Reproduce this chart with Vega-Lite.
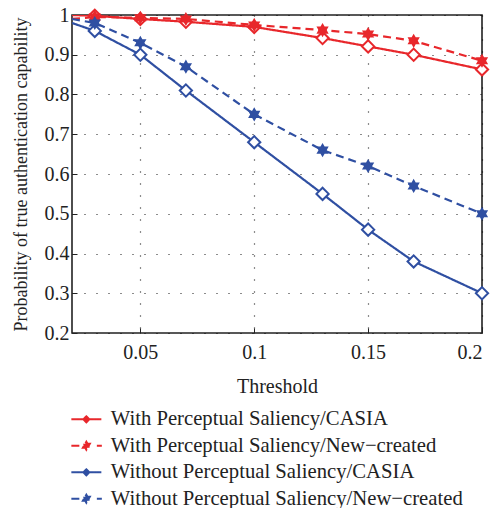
{
  "$schema": "https://vega.github.io/schema/vega-lite/v6.json",
  "width": 410,
  "height": 318,
  "autosize": "none",
  "padding": {"left": 72, "top": 15, "right": 17, "bottom": 175},
  "background": "white",
  "config": {
    "font": "Liberation Serif",
    "view": {"stroke": "#222222", "strokeWidth": 1.6},
    "axis": {
      "labelFont": "Liberation Serif",
      "titleFont": "Liberation Serif",
      "labelFontSize": 20,
      "titleFontSize": 20,
      "titleFontWeight": "normal",
      "labelColor": "#222222",
      "titleColor": "#222222",
      "domain": false,
      "tickColor": "#222222",
      "tickSize": -5,
      "tickWidth": 1,
      "grid": true,
      "gridColor": "#000000",
      "gridDash": [1, 11],
      "gridWidth": 1.2,
      "gridOpacity": 0.9
    },
    "legend": {
      "labelFont": "Liberation Serif",
      "labelFontSize": 20.7,
      "labelColor": "#222222",
      "labelLimit": 0
    }
  },
  "data": {
    "values": [
      {"t": 0.02, "p": 1.0, "s": "With Perceptual Saliency/CASIA"},
      {"t": 0.03, "p": 0.998, "s": "With Perceptual Saliency/CASIA"},
      {"t": 0.05, "p": 0.99, "s": "With Perceptual Saliency/CASIA"},
      {"t": 0.07, "p": 0.983, "s": "With Perceptual Saliency/CASIA"},
      {"t": 0.1, "p": 0.97, "s": "With Perceptual Saliency/CASIA"},
      {"t": 0.13, "p": 0.942, "s": "With Perceptual Saliency/CASIA"},
      {"t": 0.15, "p": 0.921, "s": "With Perceptual Saliency/CASIA"},
      {"t": 0.17, "p": 0.9, "s": "With Perceptual Saliency/CASIA"},
      {"t": 0.2, "p": 0.863, "s": "With Perceptual Saliency/CASIA"},
      {"t": 0.02, "p": 0.99, "s": "With Perceptual Saliency/New−created"},
      {"t": 0.03, "p": 0.995, "s": "With Perceptual Saliency/New−created"},
      {"t": 0.05, "p": 0.993, "s": "With Perceptual Saliency/New−created"},
      {"t": 0.07, "p": 0.99, "s": "With Perceptual Saliency/New−created"},
      {"t": 0.1, "p": 0.975, "s": "With Perceptual Saliency/New−created"},
      {"t": 0.13, "p": 0.962, "s": "With Perceptual Saliency/New−created"},
      {"t": 0.15, "p": 0.952, "s": "With Perceptual Saliency/New−created"},
      {"t": 0.17, "p": 0.935, "s": "With Perceptual Saliency/New−created"},
      {"t": 0.2, "p": 0.885, "s": "With Perceptual Saliency/New−created"},
      {"t": 0.02, "p": 0.98, "s": "Without Perceptual Saliency/CASIA"},
      {"t": 0.03, "p": 0.96, "s": "Without Perceptual Saliency/CASIA"},
      {"t": 0.05, "p": 0.9, "s": "Without Perceptual Saliency/CASIA"},
      {"t": 0.07, "p": 0.81, "s": "Without Perceptual Saliency/CASIA"},
      {"t": 0.1, "p": 0.68, "s": "Without Perceptual Saliency/CASIA"},
      {"t": 0.13, "p": 0.55, "s": "Without Perceptual Saliency/CASIA"},
      {"t": 0.15, "p": 0.46, "s": "Without Perceptual Saliency/CASIA"},
      {"t": 0.17, "p": 0.38, "s": "Without Perceptual Saliency/CASIA"},
      {"t": 0.2, "p": 0.3, "s": "Without Perceptual Saliency/CASIA"},
      {"t": 0.02, "p": 0.99, "s": "Without Perceptual Saliency/New−created"},
      {"t": 0.03, "p": 0.98, "s": "Without Perceptual Saliency/New−created"},
      {"t": 0.05, "p": 0.93, "s": "Without Perceptual Saliency/New−created"},
      {"t": 0.07, "p": 0.87, "s": "Without Perceptual Saliency/New−created"},
      {"t": 0.1, "p": 0.75, "s": "Without Perceptual Saliency/New−created"},
      {"t": 0.13, "p": 0.66, "s": "Without Perceptual Saliency/New−created"},
      {"t": 0.15, "p": 0.62, "s": "Without Perceptual Saliency/New−created"},
      {"t": 0.17, "p": 0.57, "s": "Without Perceptual Saliency/New−created"},
      {"t": 0.2, "p": 0.5, "s": "Without Perceptual Saliency/New−created"}
    ]
  },
  "encoding": {
    "x": {
      "field": "t", "type": "quantitative",
      "scale": {"domain": [0.02, 0.2], "nice": false, "zero": false},
      "axis": {"values": [0.05, 0.1, 0.15, 0.2], "format": "~g", "title": "Threshold", "labelPadding": 14, "titlePadding": 14}
    },
    "y": {
      "field": "p", "type": "quantitative",
      "scale": {"domain": [0.2, 1], "nice": false, "zero": false},
      "axis": {"values": [0.2, 0.3, 0.4, 0.5, 0.6, 0.7, 0.8, 0.9, 1], "format": "~g", "title": "Probability of true authentication capability", "titleFontSize": 18, "labelPadding": 8, "titlePadding": 14}
    },
    "color": {
      "field": "s", "type": "nominal",
      "scale": {
        "domain": ["With Perceptual Saliency/CASIA", "With Perceptual Saliency/New−created", "Without Perceptual Saliency/CASIA", "Without Perceptual Saliency/New−created"],
        "range": ["#e8272b", "#e8272b", "#2f4fa2", "#2f4fa2"]
      },
      "legend": {"orient": "none", "legendX": 4, "legendY": 394, "title": null, "padding": 0, "symbolSize": 100, "symbolStrokeWidth": 2, "labelOffset": 14, "rowPadding": 4.5}
    }
  },
  "layer": [
    {
      "mark": {"type": "line", "strokeWidth": 2.2, "clip": true},
      "encoding": {
        "strokeDash": {
          "field": "s", "type": "nominal",
          "scale": {
            "domain": ["With Perceptual Saliency/CASIA", "With Perceptual Saliency/New−created", "Without Perceptual Saliency/CASIA", "Without Perceptual Saliency/New−created"],
            "range": [[1, 0], [8, 5], [1, 0], [8, 5]]
          },
          "legend": null
        }
      }
    },
    {
      "transform": [{"filter": "datum.t >= 0.025 && indexof(datum.s, 'CASIA') >= 0"}],
      "mark": {"type": "point", "shape": "diamond", "filled": false, "fill": "white", "fillOpacity": 1, "size": 150, "strokeWidth": 2, "opacity": 1}
    },
    {
      "transform": [{"filter": "datum.t >= 0.025 && indexof(datum.s, 'New') >= 0"}],
      "mark": {"type": "point", "shape": "M0,-1L0.289,-0.5L0.866,-0.5L0.577,0L0.866,0.5L0.289,0.5L0,1L-0.289,0.5L-0.866,0.5L-0.577,0L-0.866,-0.5L-0.289,-0.5Z", "filled": true, "size": 200, "opacity": 1}
    },
    {
      "transform": [{"filter": "datum.t < 0"}],
      "mark": {"type": "point", "filled": false},
      "encoding": {
        "shape": {
          "field": "s", "type": "nominal",
          "scale": {
            "domain": ["With Perceptual Saliency/CASIA", "With Perceptual Saliency/New−created", "Without Perceptual Saliency/CASIA", "Without Perceptual Saliency/New−created"],
            "range": [
              "M-3,0H-0.6M0.6,0H3M0,-0.6L0.6,0L0,0.6L-0.6,0Z",
              "M-3,0H-1.1M2.1,0H3.1M0,-0.8L0.231,-0.4L0.693,-0.4L0.462,0L0.693,0.4L0.231,0.4L0,0.8L-0.231,0.4L-0.693,0.4L-0.462,0L-0.693,-0.4L-0.231,-0.4Z",
              "M-3,0H-0.6M0.6,0H3M0,-0.6L0.6,0L0,0.6L-0.6,0Z",
              "M-3,0H-1.1M2.1,0H3.1M0,-0.8L0.231,-0.4L0.693,-0.4L0.462,0L0.693,0.4L0.231,0.4L0,0.8L-0.231,0.4L-0.693,0.4L-0.462,0L-0.693,-0.4L-0.231,-0.4Z"
            ]
          },
          "legend": {"orient": "none", "legendX": 4, "legendY": 394, "title": null, "padding": 0, "symbolSize": 100, "symbolStrokeWidth": 2, "labelOffset": 14, "rowPadding": 4.5}
        }
      }
    }
  ]
}
